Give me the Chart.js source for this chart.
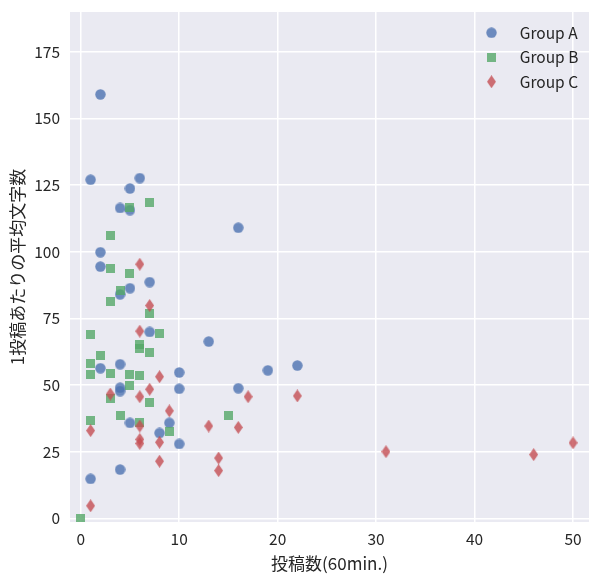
<!DOCTYPE html>
<html>
<head>
<meta charset="utf-8">
<script src="https://cdn.jsdelivr.net/npm/chart.js@4/dist/chart.umd.min.js"></script>
<style>
  body { margin: 0; background: #fff; }
</style>
</head>
<body>
<canvas id="chartId" width="590" height="574"></canvas>
<script>
// values (x = posts per 60 min, y = average chars per post)
var groupAPosts = [2, 1, 6, 5, 4, 5, 16, 2, 2, 7, 5, 4, 7, 13, 2, 4, 10, 19, 22, 4, 4, 10, 16, 5, 9, 8, 10, 4, 1];
var groupAChars = [159, 127, 127.6, 123.7, 116.4, 115.6, 109, 99.8, 94.4, 88.6, 86.3, 84, 69.9, 66.3, 56.3, 57.8, 54.7, 55.5, 57.3, 49, 47.7, 48.6, 48.8, 35.8, 35.8, 32, 27.9, 18.3, 14.8];

var groupBPosts = [7, 5, 3, 3, 5, 4, 3, 7, 1, 8, 6, 6, 7, 2, 1, 1, 3, 5, 6, 5, 3, 7, 4, 15, 1, 6, 9, 0];
var groupBChars = [118.3, 116.7, 105.9, 93.8, 91.7, 85.4, 81.3, 76.9, 68.8, 69.3, 65, 63.5, 62.1, 60.9, 57.9, 53.8, 54.2, 54.1, 53.7, 49.9, 44.8, 43.4, 38.4, 38.5, 36.6, 36, 32.4, 0];

var groupCPosts = [6, 7, 6, 8, 3, 7, 6, 17, 22, 9, 1, 13, 16, 6, 6, 6, 8, 8, 14, 14, 1, 31, 46, 50];
var groupCChars = [95.3, 79.8, 70.2, 53.1, 46.6, 48.4, 45.6, 45.6, 45.9, 40.3, 32.9, 34.6, 34.1, 34.6, 29.6, 28.1, 28.5, 21.4, 22.6, 17.9, 4.7, 25, 23.9, 28.3];

var groupNames = ['Group A', 'Group B', 'Group C'];
var xTicks = [0, 10, 20, 30, 40, 50];
var yTicks = [0, 25, 50, 75, 100, 125, 150, 175];

function toPoints(xs, ys) {
	return xs.map(function (x, i) { return { x: x, y: ys[i] }; });
}

// little marker images so data and legend use the same shapes
function marker(w, h, colour, shape) {
	var c = document.createElement('canvas');
	c.width = w;
	c.height = h;
	var g = c.getContext('2d');
	g.fillStyle = colour;
	g.beginPath();
	if (shape == 'circle') {
		g.arc(w / 2, h / 2, w / 2 - 0.3, 0, Math.PI * 2);
	} else if (shape == 'square') {
		g.rect(0, 0, w, h);
	} else {
		g.moveTo(w / 2, 0);
		g.lineTo(w, h / 2);
		g.lineTo(w / 2, h);
		g.lineTo(0, h / 2);
		g.closePath();
	}
	g.fill();
	return c;
}

var circleImg = marker(11, 11, 'rgba(76,114,176,0.8)', 'circle');
var squareImg = marker(9, 9, 'rgba(85,168,104,0.8)', 'square');
var diamondImg = marker(9, 13, 'rgba(196,78,82,0.8)', 'diamond');

var plotBackground = {
	id: 'plotBackground',
	beforeDraw: function (chart) {
		var a = chart.chartArea;
		var ctx = chart.ctx;
		ctx.save();
		ctx.fillStyle = '#EAEAF2';
		ctx.fillRect(a.left, a.top, a.right - a.left, a.bottom - a.top);
		ctx.restore();
	}
};

// put the legend in the upper right corner of the plot
var legendPlace = {
	id: 'legendPlace',
	afterLayout: function (chart) {
		var lg = chart.legend;
		var w = lg.width, h = lg.height;
		lg.left = 462;
		lg.top = 16;
		lg.right = lg.left + w;
		lg.bottom = lg.top + h;
	}
};

Chart.defaults.font.family = "'Noto Sans CJK JP', 'Noto Sans', sans-serif";
Chart.defaults.color = '#262626';

var chrt = document.getElementById('chartId').getContext('2d');
var chartId = new Chart(chrt, {
	type: 'scatter',
	data: {
		datasets: [{
			label: groupNames[0],
			data: toPoints(groupAPosts, groupAChars),
			pointStyle: circleImg,
			order: 3
		}, {
			label: groupNames[1],
			data: toPoints(groupBPosts, groupBChars),
			pointStyle: squareImg,
			order: 2
		}, {
			label: groupNames[2],
			data: toPoints(groupCPosts, groupCChars),
			pointStyle: diamondImg,
			order: 1
		}]
	},
	options: {
		responsive: false,
		animation: false,
		layout: {
			autoPadding: false,
			padding: { top: 12, right: 1, left: 0, bottom: 0 }
		},
		plugins: {
			legend: {
				position: 'chartArea',
				align: 'start',
				labels: {
					usePointStyle: true,
					pointStyleWidth: 41,
					padding: 9,
					font: { size: 15.5 },
					color: '#262626',
					sort: function (a, b) { return a.datasetIndex - b.datasetIndex; }
				}
			},
			tooltip: { enabled: false }
		},
		scales: {
			x: {
				type: 'linear',
				min: -1.09,
				max: 51.62,
				afterFit: function (s) {
					s.height = 52;
					s.paddingLeft = 0;
					s.paddingRight = 0;
				},
				afterBuildTicks: function (s) { s.ticks = xTicks.map(function (v) { return { value: v }; }); },
				grid: { color: '#FFFFFF', lineWidth: 1.5, drawTicks: false },
				border: { display: false },
				ticks: { padding: 8, font: { size: 15.5 }, color: '#262626' },
				title: {
					display: true,
					text: '投稿数(60min.)',
					font: { size: 17 },
					color: '#262626',
					padding: { top: 0, bottom: 0 }
				}
			},
			y: {
				type: 'linear',
				min: -1.39,
				max: 189.9,
				afterFit: function (s) {
					s.width = 70;
					s.paddingTop = 0;
					s.paddingBottom = 0;
				},
				afterBuildTicks: function (s) { s.ticks = yTicks.map(function (v) { return { value: v }; }); },
				grid: { color: '#FFFFFF', lineWidth: 1.5, drawTicks: false },
				border: { display: false },
				ticks: { padding: 10, font: { size: 15.5 }, color: '#262626' },
				title: {
					display: true,
					text: '1投稿あたりの平均文字数',
					font: { size: 17 },
					color: '#262626',
					padding: { top: 7, bottom: 0 }
				}
			}
		}
	},
	plugins: [plotBackground, legendPlace]
});
</script>
</body>
</html>
